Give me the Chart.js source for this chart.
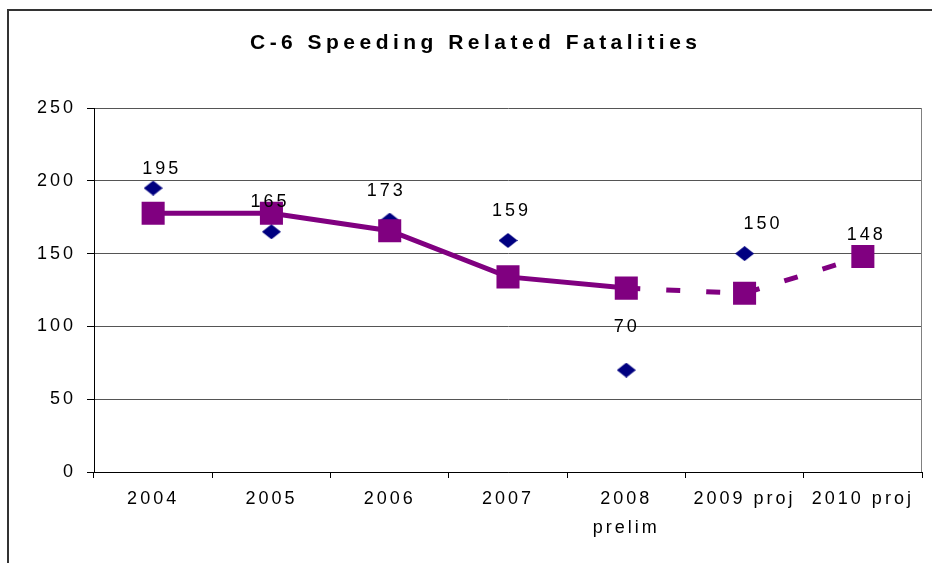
<!DOCTYPE html>
<html><head><meta charset="utf-8">
<script src="https://cdn.jsdelivr.net/npm/chart.js@4.4.0/dist/chart.umd.min.js"></script>
<style>html,body{margin:0;padding:0;background:#fff}canvas{display:block}</style>
</head><body>
<canvas id="c" width="932" height="563"></canvas>
<script>
// ---- data ----
const chartTitle = 'C-6 Speeding Related Fatalities';
const categories = ['2004', '2005', '2006', '2007', ['2008', 'prelim'], '2009 proj', '2010 proj'];
const fatalities = [195, 165, 173, 159, 70, 150, 148];
const trendValues = [177.7, 177.7, 165.7, 134, 126.3, 122.7, 148];
const yTicks = [0, 50, 100, 150, 200, 250];

// ---- styling ----
const FONT = "'Liberation Sans', Arial, sans-serif";
const SPACING = 3;
const labelOffsets = [[7, -14], [-3, -25], [-5, -24], [2, -24], [-1, -38], [17, -25], [2, -17]];

function diamondCanvas(w, h, color) {
  const c = document.createElement('canvas');
  c.width = w; c.height = h;
  const g = c.getContext('2d');
  g.fillStyle = color;
  g.beginPath();
  g.moveTo(w / 2, 0); g.lineTo(w, h / 2); g.lineTo(w / 2, h); g.lineTo(0, h / 2);
  g.closePath(); g.fill();
  return c;
}

const framePlugin = {
  id: 'frame',
  beforeDraw(chart) {
    const ctx = chart.ctx;
    ctx.save();
    ctx.strokeStyle = '#333';
    ctx.lineWidth = 2;
    ctx.beginPath();
    ctx.moveTo(8, 563); ctx.lineTo(8, 10); ctx.lineTo(940, 10);
    ctx.stroke();
    ctx.restore();
    ctx.letterSpacing = SPACING + 'px';
  },
  beforeDatasetsDraw(chart) {
    const ctx = chart.ctx, a = chart.chartArea;
    ctx.save();
    ctx.strokeStyle = '#808080';
    ctx.lineWidth = 1;
    ctx.beginPath();
    ctx.moveTo(Math.round(a.right) - 0.5, a.top);
    ctx.lineTo(Math.round(a.right) - 0.5, a.bottom);
    ctx.stroke();
    ctx.restore();
  },
  afterDatasetsDraw(chart) {
    const ctx = chart.ctx;
    const meta = chart.getDatasetMeta(1);
    ctx.save();
    ctx.font = '18px ' + FONT;
    ctx.fillStyle = '#000';
    ctx.textAlign = 'left';
    ctx.textBaseline = 'alphabetic';
    fatalities.forEach((v, i) => {
      const p = meta.data[i];
      const txt = String(v);
      ctx.letterSpacing = '0px';
      const w = ctx.measureText(txt).width + SPACING * (txt.length - 1);
      ctx.letterSpacing = SPACING + 'px';
      const off = labelOffsets[i];
      ctx.fillText(txt, p.x + off[0] - w / 2, p.y + off[1]);
    });
    ctx.restore();
  },
  afterDraw(chart) {
    const ctx = chart.ctx;
    ctx.save();
    ctx.font = 'bold 21px ' + FONT;
    ctx.fillStyle = '#000';
    ctx.textAlign = 'left';
    ctx.textBaseline = 'alphabetic';
    ctx.letterSpacing = '0px';
    const w0 = ctx.measureText(chartTitle).width;
    const target = 447;
    const s = (target - w0) / (chartTitle.length - 1);
    ctx.letterSpacing = s + 'px';
    ctx.fillText(chartTitle, 473.5 - target / 2, 49);
    ctx.restore();
  }
};

new Chart(document.getElementById('c'), {
  type: 'line',
  data: {
    labels: categories,
    datasets: [
      {
        label: 'Trend',
        data: trendValues,
        borderColor: '#800080',
        backgroundColor: '#800080',
        borderWidth: 5,
        pointStyle: 'rect',
        pointRadius: 16.3,
        pointBorderWidth: 0,
        pointBackgroundColor: '#800080',
        tension: 0,
        segment: {
          borderDash: c => c.p0DataIndex >= 4 ? [14, 26] : undefined
        }
      },
      {
        label: 'Fatalities',
        data: fatalities,
        showLine: false,
        pointStyle: diamondCanvas(19, 15, '#000080'),
        pointRadius: 10,
        borderColor: '#000080',
        backgroundColor: '#000080'
      }
    ]
  },
  options: {
    responsive: false,
    animation: false,
    events: [],
    layout: { autoPadding: false, padding: { top: 108, right: 10, bottom: 21, left: 0 } },
    plugins: { legend: { display: false }, title: { display: false }, tooltip: { enabled: false } },
    scales: {
      x: {
        offset: true,
        grid: { offset: true, drawOnChartArea: false, drawTicks: true, tickLength: 6, color: '#000', tickColor: '#000' },
        border: { display: true, color: '#000', width: 1 },
        ticks: { font: { family: FONT, size: 18, lineHeight: 1.6 }, color: '#000', padding: 7, maxRotation: 0, autoSkip: false },
        afterFit: s => { s.height = 70; s.paddingLeft = 0; s.paddingRight = 0; }
      },
      y: {
        min: yTicks[0],
        max: yTicks[yTicks.length - 1],
        ticks: { stepSize: yTicks[1] - yTicks[0], font: { family: FONT, size: 18 }, color: '#000', padding: 11 },
        grid: { color: '#555', tickLength: 7, tickColor: '#000' },
        border: { display: true, color: '#000', width: 1 },
        afterFit: s => { s.width = 94; s.paddingTop = 0; s.paddingBottom = 0; }
      }
    }
  },
  plugins: [framePlugin]
});
</script>
</body></html>
